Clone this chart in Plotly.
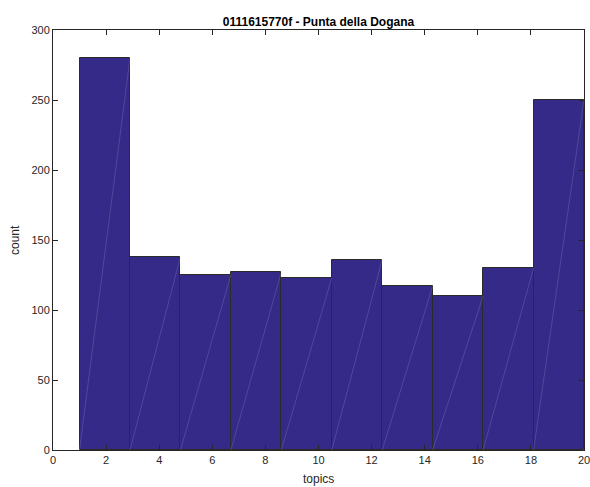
import numpy as np
import plotly.graph_objects as go

# Histogram of topic counts: 10 equal-width bins spanning 1..20
bin_lo = 1.0
bin_hi = 20.0
counts = [280, 138, 125, 127, 123, 136, 117, 110, 130, 250]
x_ticks = [0, 2, 4, 6, 8, 10, 12, 14, 16, 18, 20]
y_ticks = [0, 50, 100, 150, 200, 250, 300]

n_bins = len(counts)
edges = np.linspace(bin_lo, bin_hi, n_bins + 1)
centers = (edges[:-1] + edges[1:]) / 2
width = edges[1] - edges[0]

fig = go.Figure()
fig.add_trace(go.Bar(
    x=centers, y=counts, width=width,
    marker=dict(color="#352A87", line=dict(color="#2b2b2b", width=1)),
    hoverinfo="x+y",
))

# faint diagonal seams across each patch (left-bottom to right-top)
sx, sy = [], []
for lo, hi, c in zip(edges[:-1], edges[1:], counts):
    sx += [lo, hi, None]
    sy += [0, c, None]
fig.add_trace(go.Scatter(
    x=sx, y=sy, mode="lines",
    line=dict(color="rgba(190,190,230,0.35)", width=0.6),
    hoverinfo="skip",
))

font_family = "Liberation Sans, Arial, sans-serif"
axis_common = dict(
    showline=True, linecolor="#262626", linewidth=1, mirror="ticks",
    ticks="inside", ticklen=5, tickcolor="#262626",
    showgrid=False, zeroline=False, automargin=False,
    tickfont=dict(family=font_family, size=11, color="#262626"),
)

fig.update_layout(
    width=590, height=487,
    margin=dict(l=53, r=6, t=30, b=37),
    paper_bgcolor="white", plot_bgcolor="white",
    showlegend=False,
    bargap=0,
    title=dict(
        text="<b>0111615770f - Punta della Dogana</b>",
        x=0.5, xanchor="center", xref="paper",
        y=1, yref="paper", yanchor="bottom", pad=dict(b=4),
        font=dict(family=font_family, size=12, color="black"),
    ),
    xaxis=dict(range=[0, 20], tickvals=x_ticks, ticklabeloverflow="allow", **axis_common),
    yaxis=dict(range=[0, 300], tickvals=y_ticks, **axis_common),
    annotations=[
        dict(text="topics", xref="paper", yref="paper", x=0.5, y=0,
             xanchor="center", yanchor="top", yshift=-21, showarrow=False,
             borderpad=0,
             font=dict(family=font_family, size=12, color="#262626")),
        dict(text="count", xref="paper", yref="paper", x=0, y=0.5,
             xanchor="right", yanchor="middle", xshift=-30, textangle=-90,
             showarrow=False, borderpad=0,
             font=dict(family=font_family, size=12, color="#262626")),
    ],
)

fig.write_html("out.html")
